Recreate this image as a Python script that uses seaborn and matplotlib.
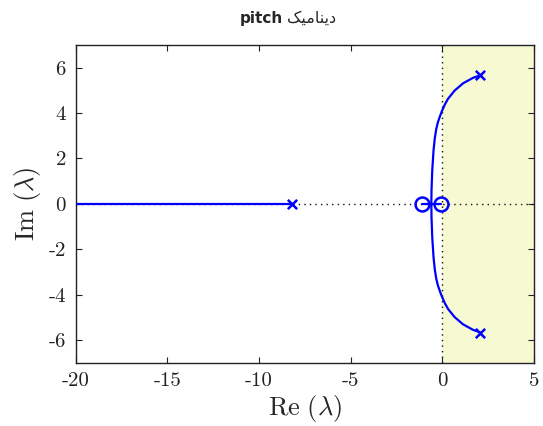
import numpy as np
import pandas as pd
import seaborn as sns
import matplotlib.pyplot as plt

# Open-loop poles and zeros
pole_re = [-8.2, 2.08, 2.08]
pole_im = [0.0, 5.67, -5.67]
zero_re = [-1.1, -0.05]
zero_im = [0.0, 0.0]

# Branch running out along the negative real axis
left_re = [-20.0, -8.2]
left_im = [0.0, 0.0]

# Complex branches from the unstable pole pair down to the real axis
upper_re = [2.08, 1.67, 1.13, 0.67, 0.31, 0.14, 0.0, -0.12, -0.24, -0.33,
            -0.41, -0.48, -0.55, -0.59, -0.60]
upper_im = [5.67, 5.55, 5.31, 4.99, 4.63, 4.38, 4.13, 3.88, 3.60, 3.30,
            2.90, 2.35, 1.47, 0.59, 0.0]
lower_re = [2.08, 1.67, 1.13, 0.67, 0.31, 0.14, 0.0, -0.12, -0.24, -0.33,
            -0.41, -0.48, -0.55, -0.59, -0.60]
lower_im = [-5.67, -5.55, -5.31, -4.99, -4.63, -4.38, -4.13, -3.88, -3.60, -3.30,
            -2.90, -2.35, -1.47, -0.59, 0.0]

# Real-axis segment between the two zeros
mid_re = [-1.1, -0.05]
mid_im = [0.0, 0.0]

xticks = [-20, -15, -10, -5, 0, 5]
xtick_labels = ["-20", "-15", "-10", "-5", "0", "5"]
yticks = [-6, -4, -2, 0, 2, 4, 6]
ytick_labels = ["-6", "-4", "-2", "0", "2", "4", "6"]

sns.set_style("white")
plt.rcParams["mathtext.fontset"] = "cm"
plt.rcParams["axes.unicode_minus"] = False

fig = plt.figure(figsize=(5.43, 4.26), dpi=100)
ax = fig.add_axes([0.1394, 0.1486, 0.8440, 0.7458])

blue = "#0000ff"
ax.axvspan(0, 5, color="#f6f9d2", zorder=0, lw=0)
ax.axvline(0, color="#111111", ls=(0, (1, 3)), lw=1.0, zorder=1)
ax.axhline(0, color="#111111", ls=(0, (1, 3)), lw=1.0, zorder=1)

branches = [(left_re, left_im, "a"), (upper_re, upper_im, "b"),
            (lower_re, lower_im, "c"), (mid_re, mid_im, "d")]
rows = []
for re_, im_, name in branches:
    for k, (r, i) in enumerate(zip(re_, im_)):
        rows.append({"re": r, "im": i, "branch": name, "k": k})
df = pd.DataFrame(rows)
for name, sub in df.groupby("branch"):
    sns.lineplot(data=sub, x="re", y="im", sort=False, estimator=None,
                 color=blue, lw=1.6, ax=ax, zorder=3)

sns.scatterplot(x=pole_re, y=pole_im, marker="x", s=45, color=blue,
                linewidth=1.8, ax=ax, zorder=4)
ax.plot(zero_re, zero_im, ls="none", marker="o", ms=10, mfc="none",
        mec=blue, mew=1.8, zorder=4)

ax.set_xlim(-20, 5)
ax.set_ylim(-7, 7)
ax.set_xticks(xticks)
ax.set_xticklabels(xtick_labels, family="cmr10", fontsize=15)
ax.set_yticks(yticks)
ax.set_yticklabels(ytick_labels, family="cmr10", fontsize=15)
ax.tick_params(direction="in", length=4, width=0.8, top=True, right=True,
               bottom=True, left=True, colors="#222222", pad=7)
for lab in ax.get_xticklabels() + ax.get_yticklabels():
    lab.set_color("#222222")
for sp in ax.spines.values():
    sp.set_color("#222222")
    sp.set_linewidth(1.0)

ax.set_xlabel(r"$\mathrm{Re}\ (\lambda)$", fontsize=19, labelpad=2)
ax.set_ylabel(r"$\mathrm{Im}\ (\lambda)$", fontsize=19, labelpad=4)

# Title: bold Latin word followed by the Persian word (shaped, visual order)
fig.text(0.5206, 0.957, "pitch", ha="right", va="center", fontsize=11,
         fontweight="bold", family="DejaVu Sans")
fig.text(0.5280, 0.957, "\uFB8F\uFBFF\uFEE3\uFE8E\uFEE8\uFBFE\uFEA9",
         ha="left", va="center", fontsize=11.5, family="DejaVu Sans")

fig.savefig("out.png", dpi=100)
